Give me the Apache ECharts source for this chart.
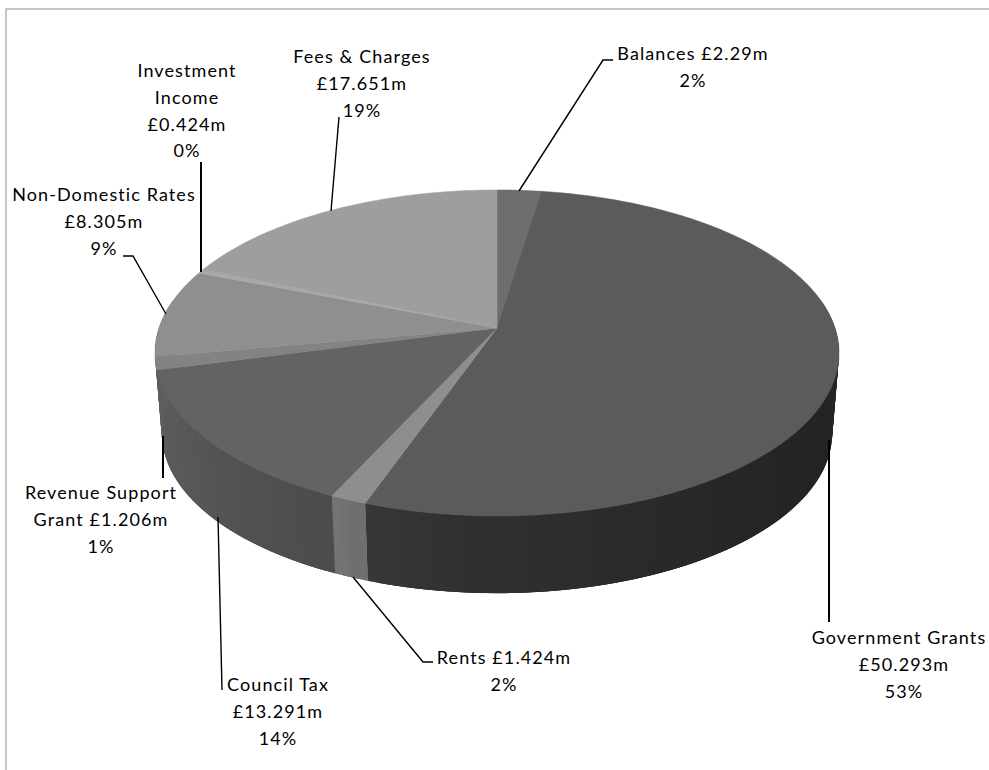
<!DOCTYPE html>
<html>
<head>
<meta charset="utf-8">
<style>
  html, body { margin: 0; padding: 0; background: #fff; overflow: hidden; }
  #chart { width: 989px; height: 770px; }
  #chart text { letter-spacing: 1.1px; }
</style>
<script src="https://cdn.jsdelivr.net/npm/echarts@6/dist/echarts.min.js"></script>
</head>
<body>
<div id="chart"></div>
<script>
// Income sources in £m, clockwise from twelve o'clock
const categories = ['Balances', 'Government Grants', 'Rents', 'Council Tax',
  'Revenue Support Grant', 'Non-Domestic Rates', 'Investment Income', 'Fees & Charges'];
const values = [2.29, 50.293, 1.424, 13.291, 1.206, 8.305, 0.424, 17.651];
const labelLines = [
  ['Balances £2.29m', '2%'],
  ['Government Grants', '£50.293m', '53%'],
  ['Rents £1.424m', '2%'],
  ['Council Tax', '£13.291m', '14%'],
  ['Revenue Support', 'Grant £1.206m', '1%'],
  ['Non-Domestic Rates', '£8.305m', '9%'],
  ['Investment', 'Income', '£0.424m', '0%'],
  ['Fees & Charges', '£17.651m', '19%']
];

// Slice shades: grey levels for the top face and for each wall's left and right ends
const topColors = ['#6e6e6e', '#5b5b5b', '#8e8e8e', '#636363', '#838383', '#8f8f8f', '#a8a8a8', '#9e9e9e'];
const wallLeft = [85, 58, 124, 94, 94, 94, 94, 94];
const wallRight = [85, 36, 110, 76, 90, 94, 94, 94];

// Label placement: centre x, first line y, first line nudge, leader polyline
const labelX = [693, 904, 504, 278, 101, 104, 187, 362];
const labelY = [53, 637, 657, 684, 492, 194, 70, 56];
const firstLineShift = [0, -5, 0, 0, 0, 0, 0, 0];
const lineStep = 26.8;
const leaders = [
  [[519, 191], [603, 60], [613, 60]],
  [[829, 440], [829, 622]],
  [[353, 577], [423, 662], [433, 662]],
  [[218, 517], [222, 690]],
  [[163, 436], [163, 478]],
  [[166, 314], [133, 256], [123, 256]],
  [[201, 272], [201, 162]],
  [[331, 211], [339, 117]]
];
const leaderWidth = [1.4, 2, 1.4, 1.4, 2, 1.4, 2, 1.4];

// Perspective projection of the pie disc onto the page
const centerX = 497, topY = 328, thickness = 81;
const scaleX = 338, scaleY = 159.2, tilt = 0.153, baseShrink = 0.98;

function project(deg, lower) {
  const t = deg * Math.PI / 180;
  const x = Math.sin(t), y = -Math.cos(t);
  const w = 1 - tilt * y;
  const s = lower ? baseShrink : 1;
  return [centerX + s * scaleX * x / w, topY + (lower ? thickness : 0) + s * scaleY * y / w];
}
function arc(from, to) {
  const pts = [];
  const n = Math.max(2, Math.ceil(Math.abs(to - from)));
  for (let i = 0; i <= n; i++) pts.push(project(from + (to - from) * i / n, false));
  return pts;
}

const total = values.reduce((a, b) => a + b, 0);
const startDeg = [];
values.reduce((sum, v, i) => { startDeg[i] = sum / total * 360; return sum + v; }, 0);

// The wall is built from narrow strips, shaded by their position along the slice.
// Strips reach one step past both ends and are painted from the sides toward the front,
// so every soft edge ends up under a later strip.
function renderWall(params, api) {
  const i = params.dataIndex;
  const from = Math.max(startDeg[i], 80);
  const to = Math.min(startDeg[i] + api.value(0) / total * 360, 280);
  if (to <= from) return null;
  const xEnds = [project(from, false)[0], project(to, false)[0]];
  const xMin = Math.min(...xEnds), xMax = Math.max(...xEnds);
  const n = Math.max(2, Math.ceil((to - from) / 1.5));
  const step = (to - from) / n;
  const midOf = k => from + (k + 0.5) * step;
  const order = [...Array(n).keys()].sort((a, b) => Math.abs(midOf(b) - 180) - Math.abs(midOf(a) - 180));
  const children = order.map(k => {
    const a0 = from + step * k, b0 = a0 + step;
    const xMid = (project(a0, false)[0] + project(b0, false)[0]) / 2;
    const a = Math.max(from, a0 - step), b = Math.min(to, b0 + step);
    const pts = [project(a, false), project(b, false), project(b, true), project(a, true)];
    const f = Math.pow(Math.min(1, Math.max(0, (xMid - xMin) / (xMax - xMin || 1))), 0.6);
    const g = Math.round(wallLeft[i] + (wallRight[i] - wallLeft[i]) * f);
    return {
      type: 'polygon', silent: true, shape: { points: pts },
      style: { fill: 'rgb(' + g + ',' + g + ',' + g + ')' }
    };
  });
  return { type: 'group', children: children };
}

function renderTop(params, api) {
  const i = params.dataIndex;
  const from = startDeg[i], to = from + api.value(0) / total * 360;
  const pts = [[centerX, topY]].concat(arc(from, to));
  return {
    type: 'polygon', silent: true, shape: { points: pts },
    style: { fill: topColors[i], stroke: topColors[i], lineWidth: 0.5 }
  };
}

function renderLabel(params) {
  const i = params.dataIndex;
  const children = [{
    type: 'polyline', silent: true, shape: { points: leaders[i] },
    style: { fill: null, stroke: '#000', lineWidth: leaderWidth[i] }
  }];
  labelLines[i].forEach((line, k) => children.push({
    type: 'text', silent: true,
    style: {
      text: line, x: labelX[i] + (k === 0 ? firstLineShift[i] : 0), y: labelY[i] + k * lineStep,
      align: 'center', verticalAlign: 'middle',
      font: '18px Lato', fill: '#000'
    }
  }));
  return { type: 'group', children: children };
}

const chart = echarts.init(document.getElementById('chart'), null, { renderer: 'svg' });
const rows = values.map((v, i) => ({ name: categories[i], value: [v] }));
chart.setOption({
  animation: false,
  backgroundColor: '#fff',
  graphic: [
    { type: 'polyline', silent: true, shape: { points: [[6, 770], [6, 9], [989, 9]] },
      style: { fill: null, stroke: '#b4b4b4', lineWidth: 1.5 } }
  ],
  series: [
    { type: 'custom', coordinateSystem: 'none', renderItem: renderWall, data: rows, z: 1 },
    { type: 'custom', coordinateSystem: 'none', renderItem: renderTop, data: rows, z: 2 },
    { type: 'custom', coordinateSystem: 'none', renderItem: renderLabel, data: rows, z: 3 }
  ]
});
</script>
</body>
</html>
